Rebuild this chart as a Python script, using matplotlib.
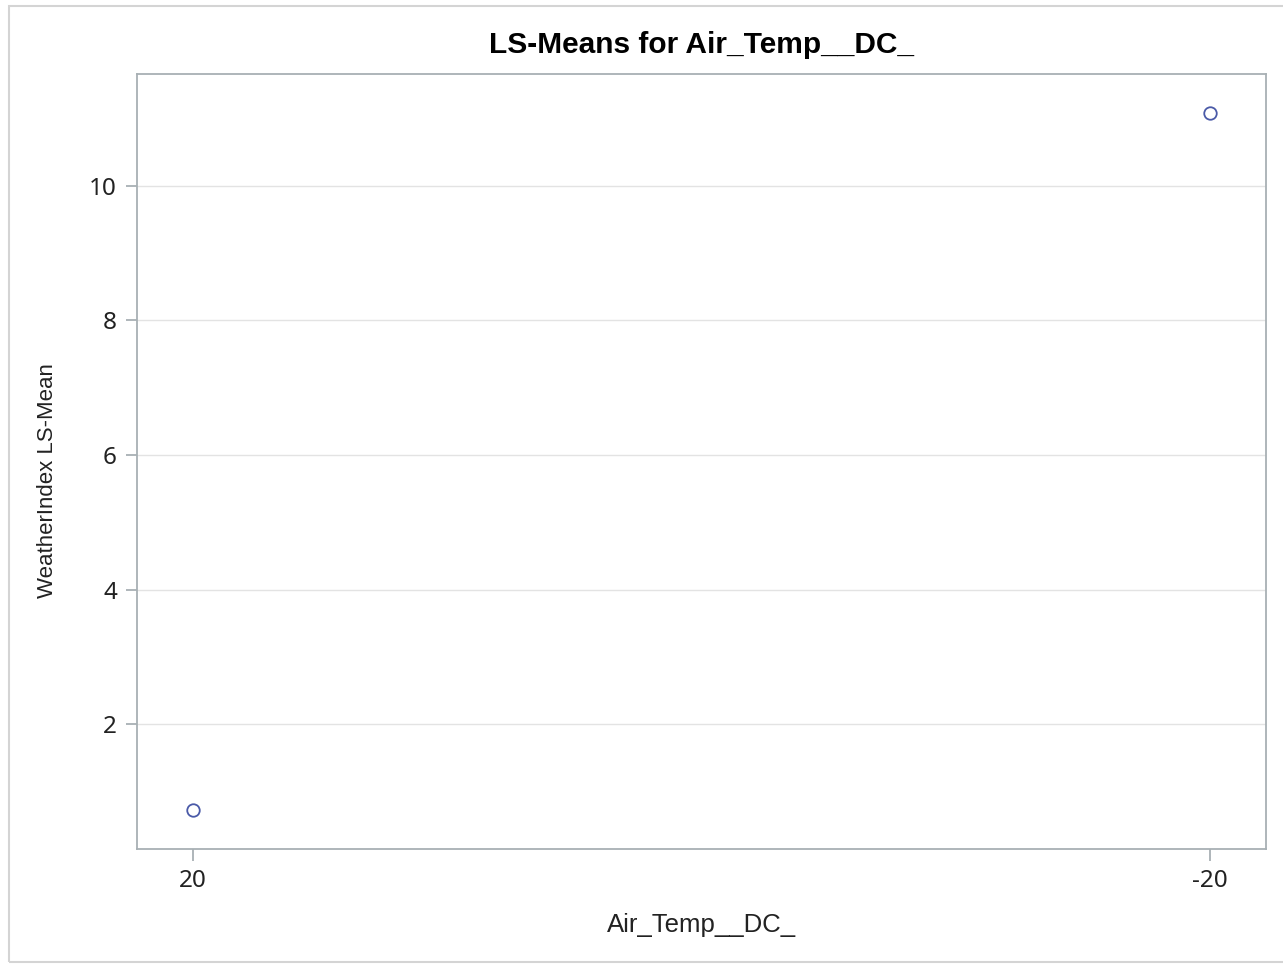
import matplotlib
matplotlib.use("Agg")
import matplotlib.pyplot as plt
from matplotlib.patches import Rectangle

categories = ["20", "-20"]
lsmeans = [0.72, 11.08]
yticks = [2, 4, 6, 8, 10]

fig = plt.figure(figsize=(12.83, 9.64), dpi=100)
ax = fig.add_axes([0.1068, 0.1193, 0.8799, 0.8039])

frame_col = "#a8b0b4"
x = list(range(len(categories)))
ax.plot(x, lsmeans, linestyle="none", marker="o", markersize=9,
        markerfacecolor="none", markeredgecolor="#4a5aa8", markeredgewidth=1.3, zorder=3)

ax.set_xlim(-0.055, 1.055)
ax.set_ylim(0.145, 11.66)
ax.set_xticks(x)
ax.set_xticklabels(categories)
ax.set_yticks(yticks)
ax.set_yticklabels([str(v) for v in yticks])
ax.yaxis.grid(True, color="#e3e3e3", linewidth=1.0)
ax.set_axisbelow(True)

for s in ax.spines.values():
    s.set_color(frame_col)
    s.set_linewidth(1.3)

ax.tick_params(axis="x", length=8.5, width=1.3, color=frame_col, labelsize=17.5,
               pad=6, labelcolor="#222222")
ax.tick_params(axis="y", length=8, width=1.3, color=frame_col, labelsize=17.5,
               pad=6.5, labelcolor="#222222")
for lab in ax.get_xticklabels() + ax.get_yticklabels():
    lab.set_family("Noto Sans")

ax.set_title("LS-Means for Air_Temp__DC_", fontsize=21.5, fontweight="bold",
             family="Liberation Sans", pad=15)
ax.set_xlabel("Air_Temp__DC_", fontsize=18.5, family="Liberation Sans", color="#222222")
ax.xaxis.set_label_coords(0.5, -0.0826)
ax.set_ylabel("WeatherIndex LS-Mean", fontsize=16, family="Liberation Sans", color="#222222")
ax.yaxis.set_label_coords(-0.0702, 0.476)

fig.patches.append(Rectangle((9 / 1283, 2 / 964), 1.0, 956 / 964, transform=fig.transFigure,
                             fill=False, edgecolor="#d4d4d4", linewidth=1.5))

fig.savefig("out.png", dpi=100)
